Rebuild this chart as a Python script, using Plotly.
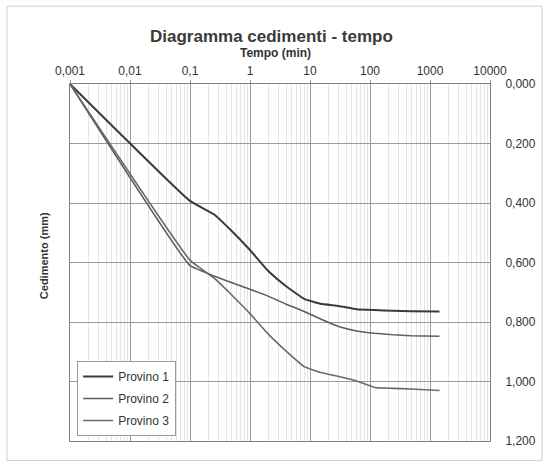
import plotly.graph_objects as go

# --- data (time in minutes, settlement in mm) ---
tempo = [0.001, 0.1, 0.25, 0.5, 1, 2, 4, 8, 15, 30, 60, 120, 240, 480, 1440]
provino_1 = [0.000, 0.393, 0.438, 0.495, 0.558, 0.628, 0.680, 0.722, 0.739, 0.746, 0.757, 0.760, 0.762, 0.764, 0.765]
provino_2 = [0.000, 0.610, 0.645, 0.668, 0.690, 0.713, 0.740, 0.765, 0.790, 0.815, 0.830, 0.838, 0.843, 0.846, 0.848]
provino_3 = [0.000, 0.592, 0.652, 0.710, 0.772, 0.840, 0.898, 0.950, 0.970, 0.983, 0.998, 1.020, 1.023, 1.025, 1.030]

series_names = ["Provino 1", "Provino 2", "Provino 3"]
x_tick_vals = [0.001, 0.01, 0.1, 1, 10, 100, 1000, 10000]
x_tick_text = ["0,001", "0,01", "0,1", "1", "10", "100", "1000", "10000"]
y_tick_vals = [0, 0.2, 0.4, 0.6, 0.8, 1.0, 1.2]

minor_vals = [k * 10 ** e for e in range(-3, 4) for k in range(2, 10)]

FONT = "Liberation Sans, Arial, sans-serif"
TXT = "#333333"

fig = go.Figure()
styles = [("#3a3a3a", 2.0), ("#5e5e5e", 1.6), ("#6a6a6a", 1.6)]
for name, ys, (col, w) in zip(series_names, [provino_1, provino_2, provino_3], styles):
    fig.add_trace(go.Scatter(x=tempo, y=ys, name=name, mode="lines", legendgroup=name,
                             line=dict(color=col, width=w, shape="spline", smoothing=0.35)))

fig.update_layout(
    width=548, height=466,
    margin=dict(l=70, r=58, t=84, b=25),
    paper_bgcolor="white", plot_bgcolor="white",
    separators=",.",
    font=dict(family=FONT, size=12, color=TXT),
    showlegend=True,
    legend=dict(x=0.017, y=0.014, xanchor="left", yanchor="bottom",
                bgcolor="white", bordercolor="#999999", borderwidth=1,
                font=dict(size=12, color=TXT), tracegroupgap=3,
                entrywidth=108, entrywidthmode="pixels"),
    xaxis=dict(type="log", side="top", range=[-3, 4],
               tickmode="array", tickvals=x_tick_vals, ticktext=x_tick_text,
               showgrid=True, gridcolor="#9a9a9a", gridwidth=1,
               showline=True, linecolor="#808080", linewidth=1, mirror=True,
               ticks="outside", ticklen=3, tickcolor="#999999",
               tickfont=dict(size=12, color=TXT),
               minor=dict(tickvals=minor_vals, showgrid=True, gridcolor="#e4e4e4", gridwidth=1),
               zeroline=False),
    yaxis=dict(side="right", range=[1.2, 0], tickmode="array", tickvals=y_tick_vals,
               tickformat=".3f", showgrid=True, gridcolor="#9a9a9a", gridwidth=1,
               showline=True, linecolor="#808080", linewidth=1, mirror=True,
               ticks="", ticklabelstandoff=12,
               tickfont=dict(size=12, color=TXT), zeroline=False),
    annotations=[
        dict(text="<b>Diagramma cedimenti - tempo</b>", xref="paper", yref="paper",
             x=0.48, y=1.134, xanchor="center", yanchor="middle", showarrow=False,
             font=dict(size=17, color="#3a3a3a", family=FONT)),
        dict(text="<b>Tempo (min)</b>", xref="paper", yref="paper",
             x=0.49, y=1.088, xanchor="center", yanchor="middle", showarrow=False,
             font=dict(size=12, color=TXT, family=FONT)),
        dict(text="<b>Cedimento (mm)</b>", xref="paper", yref="paper",
             x=-0.06, y=0.52, xanchor="center", yanchor="middle", showarrow=False,
             textangle=-90, font=dict(size=11, color=TXT, family=FONT)),
    ],
    shapes=[dict(type="rect", xref="paper", yref="paper",
                 x0=-0.150, x1=1.124, y0=-0.055, y1=1.218,
                 line=dict(color="#cfcfcf", width=1), layer="below")],
)

fig.write_html("out.html")
